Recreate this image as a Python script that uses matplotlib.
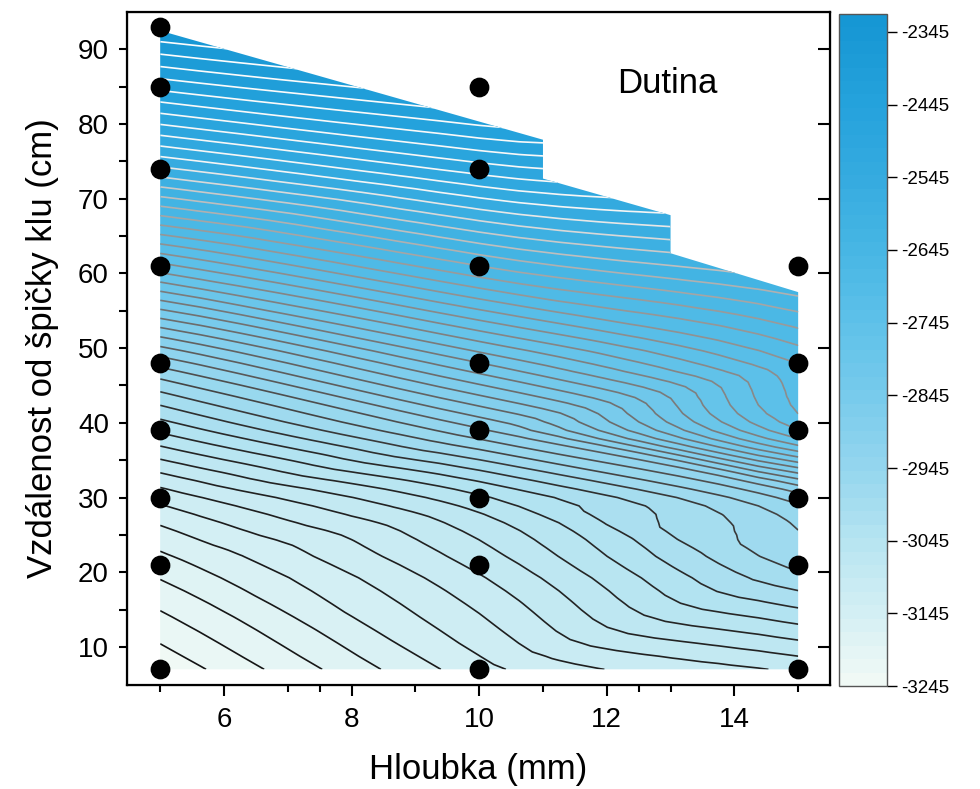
import numpy as np
import matplotlib
matplotlib.use('Agg')
import matplotlib.pyplot as plt
import matplotlib.tri as mtri
from matplotlib.colors import LinearSegmentedColormap
from matplotlib.patches import Polygon
from matplotlib.ticker import MultipleLocator, FixedLocator

plt.rcParams['font.family'] = ['Liberation Sans', 'DejaVu Sans']
plt.rcParams['axes.unicode_minus'] = False

# measurement points: depth (mm), distance from tip (cm), value
depth = [5, 5, 5, 5, 5, 5, 5, 5, 5,
         10, 10, 10, 10, 10, 10, 10, 10,
         15, 15, 15, 15, 15, 15]
dist = [7, 21, 30, 39, 48, 61, 74, 85, 93,
        7, 21, 30, 39, 48, 61, 74, 85,
        7, 21, 30, 39, 48, 61]
value = [-3241, -3180, -3127, -3038, -2942, -2751, -2564, -2425, -2335,
         -3141, -3092, -3045, -2934, -2820, -2653, -2496, -2375,
         -3093, -2981, -2940, -2746, -2708, -2598]

# extent of the gridded region (outline of the filled area)
region_x = [5, 15, 15, 13, 13, 11, 11, 5]
region_y = [7, 7, 57.5, 62.7, 67.8, 72.7, 77.9, 92.5]

levels = np.linspace(-3245, -2320, 51)
cbar_ticks = np.arange(-3245, -2344, 100)

fill_cmap = LinearSegmentedColormap.from_list('dutina', [
    (0.000, '#f2faf5'), (0.108, '#d4eff4'), (0.216, '#b6e4f1'),
    (0.324, '#94d6ee'), (0.432, '#78cbec'), (0.541, '#5ec1e9'),
    (0.649, '#47b6e4'), (0.757, '#35abe0'), (0.865, '#25a2dc'),
    (1.000, '#1596d3')])
line_cmap = LinearSegmentedColormap.from_list('lines', [
    (0.0, '#111111'), (0.25, '#2a2a2a'), (0.33, '#555555'),
    (0.5, '#808080'), (0.62, '#9a9a9a'), (0.7, '#c8c8c8'),
    (0.76, '#f5f5f5'), (1.0, '#ffffff')])

fig = plt.figure(figsize=(9.8, 7.89), dpi=100)
ax = fig.add_axes([0.1296, 0.1318, 0.7174, 0.853])
cax = fig.add_axes([0.856, 0.1305, 0.049, 0.852])

tri = mtri.Triangulation(depth, dist)
refiner = mtri.UniformTriRefiner(tri)
interp = mtri.CubicTriInterpolator(tri, value, kind='geom')
fine_tri, fine_val = refiner.refine_field(value, triinterpolator=interp, subdiv=3)

cf = ax.tricontourf(fine_tri, fine_val, levels=levels, cmap=fill_cmap)
cl = ax.tricontour(fine_tri, fine_val, levels=levels, cmap=line_cmap,
                   linewidths=1.2)
clip = Polygon(np.column_stack([region_x, region_y]), closed=True,
               transform=ax.transData)
cf.set_clip_path(clip)
cl.set_clip_path(clip)

ax.scatter(depth, dist, s=175, c='k', zorder=5, clip_on=False)
ax.text(12.95, 85.4, 'Dutina', fontsize=25, ha='center', va='center')

ax.set_xlim(4.48, 15.5)
ax.set_ylim(4.9, 95)
ax.xaxis.set_major_locator(FixedLocator([6, 8, 10, 12, 14]))
ax.xaxis.set_minor_locator(FixedLocator([5, 7, 7.5, 9, 11, 12.5, 13, 15]))
ax.yaxis.set_major_locator(MultipleLocator(10))
ax.yaxis.set_minor_locator(FixedLocator([15, 25, 35, 45, 55, 65, 75, 85]))
ax.tick_params(axis='both', which='major', labelsize=20, width=1.5)
ax.tick_params(axis='x', which='major', direction='out', length=8, pad=8)
ax.tick_params(axis='x', which='minor', direction='out', length=5, width=1.5)
ax.tick_params(axis='y', which='both', direction='out', length=6, width=1.5,
               right=False, pad=7)
for s in ax.spines.values():
    s.set_linewidth(1.6)

# inward ticks on the right side
ax2 = ax.twinx()
ax2.set_ylim(ax.get_ylim())
ax2.yaxis.set_major_locator(MultipleLocator(10))
ax2.tick_params(axis='y', direction='in', length=9, width=1.5, labelright=False)

ax.set_xlabel('Hloubka (mm)', fontsize=25, labelpad=14)
ax.set_ylabel('Vzdálenost od špičky klu (cm)', fontsize=25, labelpad=14)

cb = fig.colorbar(cf, cax=cax, ticks=cbar_ticks)
cb.outline.set_linewidth(1.0)
cb.outline.set_edgecolor('#555555')
cb.ax.tick_params(labelsize=13.5, length=7, width=1, direction='out')

fig.savefig('out.png', dpi=100)
